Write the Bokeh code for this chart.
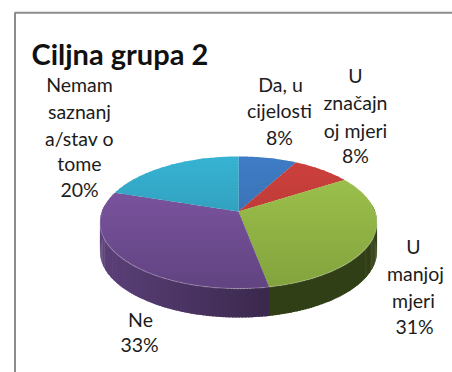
import numpy as np
from bokeh.plotting import figure
from bokeh.embed import file_html
from bokeh.resources import INLINE
from bokeh.core.properties import value

# ---- data
title = "Ciljna grupa 2"
categories = ["Da, u cijelosti", "U značajnoj mjeri", "U manjoj mjeri", "Ne", "Nemam saznanja/stav o tome"]
shares = [8, 8, 31, 33, 20]
label_lines = [
    ["Da, u", "cijelosti", "8%"],
    ["U", "značajn", "oj mjeri", "8%"],
    ["U", "manjoj", "mjeri", "31%"],
    ["Ne", "33%"],
    ["Nemam", "saznanj", "a/stav o", "tome", "20%"],
]

# ---- styles and layout (page pixels)
top_light = ["#3f7cc6", "#cc403c", "#a0c54e", "#8259a8", "#37b2d2"]
top_dark = ["#33689f", "#ad3532", "#82a23d", "#614380", "#2a8ba6"]
side_left = ["#2a4a78", "#7a2523", "#3f5019", "#5b4079", "#1f6478"]
side_right = ["#2a4a78", "#7a2523", "#313f16", "#3a284c", "#1f6478"]
label_x = [[280, 279, 279], [355, 355, 355, 355], [413, 415, 413, 414], [140, 139], [79, 79, 79, 79, 79]]
label_y = [[84, 110, 137], [75, 102, 130, 155], [246, 273, 300, 326], [319, 344], [84, 111, 138, 163, 189]]
CX, CY, RX, RY, K, DEPTH = 238.0, 211.0, 136.6, 64.2, 1 / 6, 29.0
YTOP, YBOT = 156.0, 288.0


def project(theta):
    u, v = np.sin(theta), np.cos(theta)
    d = 1 + K * v
    return CX + RX * u / d, CY - RY * v / d


def hexmix(a, b, t):
    ca = np.array([int(a[i:i + 2], 16) for i in (1, 3, 5)], float)
    cb = np.array([int(b[i:i + 2], 16) for i in (1, 3, 5)], float)
    c = ca + (cb - ca) * t
    return "#%02x%02x%02x" % tuple(int(round(x)) for x in c)


def clip_half(pts, y0, keep_below):
    out = []
    n = len(pts)
    for i in range(n):
        a, b = pts[i], pts[(i + 1) % n]
        ina = a[1] >= y0 if keep_below else a[1] <= y0
        inb = b[1] >= y0 if keep_below else b[1] <= y0
        if ina:
            out.append(a)
        if ina != inb:
            t = (y0 - a[1]) / (b[1] - a[1])
            out.append((a[0] + t * (b[0] - a[0]), y0))
    return out


p = figure(width=452, height=372, x_range=(0, 452), y_range=(372, 0),
           output_backend="svg", toolbar_location=None, min_border=0,
           outline_line_color=None, background_fill_color="white", border_fill_color="white")
p.axis.visible = False
p.grid.visible = False

# chart frame, cropped by the picture
p.line([14.5, 14.5, 452], [372, 12.2, 12.2], line_color="#8c8c8c", line_width=2)

fractions = np.cumsum([0] + shares) / sum(shares)
angles = fractions * 2 * np.pi

# side wall: the front part of the rim, in small shaded steps
sx, sy, sc = [], [], []
for i in range(len(shares)):
    th = np.arange(angles[i], angles[i + 1] + 0.02, 0.02)
    th = th[np.cos(th) < 0.12]
    for a, b in zip(th[:-1], th[1:]):
        xa, ya = project(a)
        xb, yb = project(b + 0.01)
        sx.append([xa, xb, xb, xa])
        sy.append([ya, yb, yb + DEPTH, ya + DEPTH])
        t = np.clip(abs((xa + xb) / 2 - 100) / 170, 0, 1)
        sc.append(hexmix(side_left[i], side_right[i], t))
p.patches(sx, sy, fill_color=sc, line_color=None)

# top face: every slice cut into horizontal bands for the vertical shading
bands = np.arange(YTOP - 1, YBOT + 2, 3.0)
fx, fy, fc = [], [], []
for i in range(len(shares)):
    th = np.linspace(angles[i], angles[i + 1], 80)
    rx, ry = project(th)
    poly = [(CX, CY)] + list(zip(rx, ry))
    for y0, y1 in zip(bands[:-1], bands[1:]):
        part = clip_half(clip_half(poly, y0, True), y1 + 0.7, False) if poly else []
        if len(part) >= 3:
            fx.append([q[0] for q in part])
            fy.append([q[1] for q in part])
            fc.append(hexmix(top_light[i], top_dark[i], (y0 - YTOP) / (YBOT - YTOP)))
p.patches(fx, fy, fill_color=fc, line_color=None)

# soft highlight along the front rim
th = np.linspace(np.pi / 2, 3 * np.pi / 2, 160)
hx, hy = project(th)
p.line(hx, hy, line_color="white", line_alpha=0.22, line_width=1.2)

# texts
lx, ly, lt = [], [], []
for xs, ys, ts in zip(label_x, label_y, label_lines):
    lx += xs
    ly += ys
    lt += ts
p.text(lx, ly, text=lt, text_font=value("Lato"), text_font_size="19.5px",
       text_align="center", text_baseline="middle", text_color="#1c1c1c")
p.text([31], [53], text=[title], text_font=value("Lato"), text_font_size="29px",
       text_font_style="bold", text_align="left", text_baseline="middle", text_color="#111111")

open("out.html", "w").write(file_html(p, INLINE))
